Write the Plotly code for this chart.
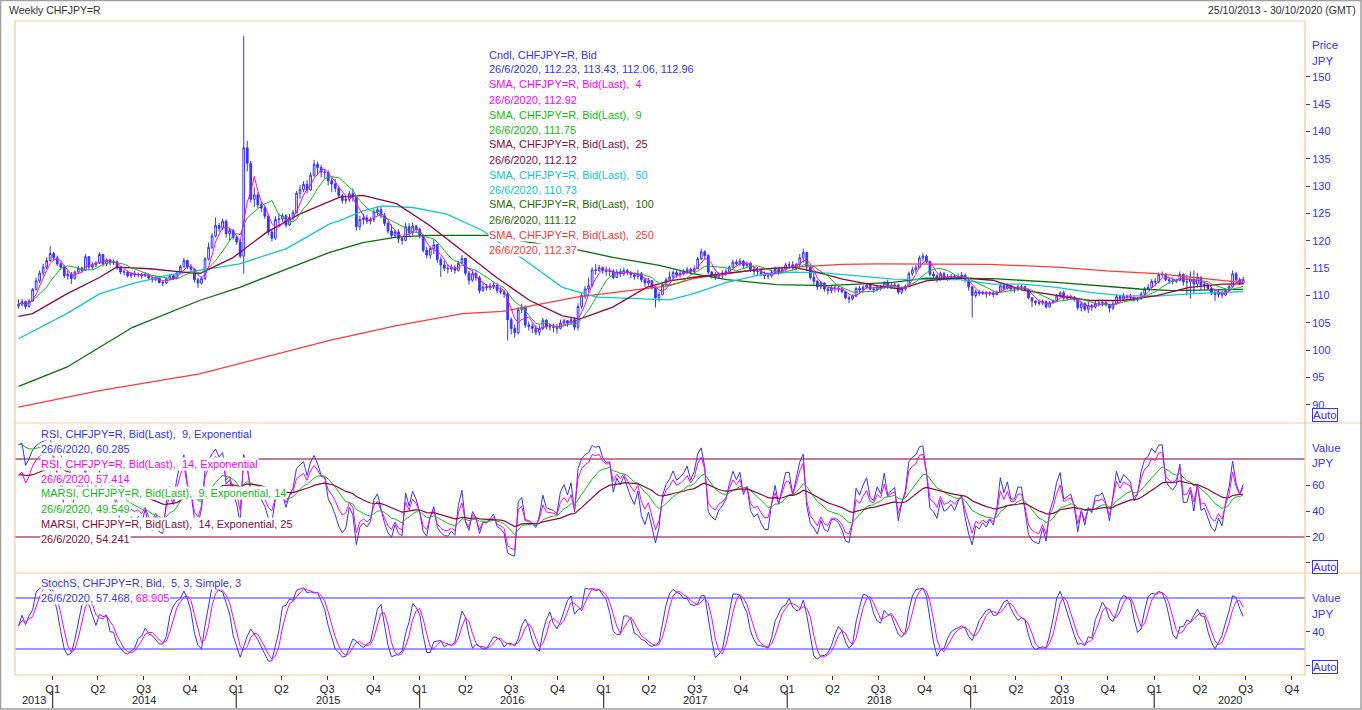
import numpy as np
import pandas as pd
import plotly.graph_objects as go

# Weekly CHFJPY=R bid candles (week ending Friday)
first_open = 108.1

close_2013 = [108.4, 108.9, 108.0, 109.0, 111.1, 112.7, 114.1, 115.2, 116.4, 117.7]
high_2013 = [109.3, 109.4, 109.1, 109.4, 111.4, 113.3, 114.6, 115.8, 117.0, 119.0]
low_2013 = [107.6, 108.0, 107.5, 107.8, 108.9, 110.9, 112.3, 113.6, 114.8, 116.2]

close_2014 = [116.9, 115.8, 115.2, 113.6, 113.9, 113.1, 114.3, 115.0, 114.6,
              117.1, 115.2, 115.6, 115.9, 117.5, 115.8, 116.5, 116.0,
              116.2, 115.1, 114.3, 114.3, 113.6, 114.0, 113.8, 113.9, 113.6,
              113.9, 113.2, 112.9, 113.2, 112.4, 112.3, 113.0, 113.6, 113.1,
              114.1, 115.3, 116.4, 115.2, 114.8, 112.9, 112.3, 113.1, 116.7,
              118.8, 120.9, 122.8, 122.3, 123.6, 121.3, 121.9, 120.6]
high_2014 = [118.0, 117.3, 116.2, 115.5, 114.6, 114.3, 114.6, 115.4, 115.3,
             117.6, 117.2, 116.1, 116.3, 117.9, 117.6, 116.8, 116.8,
             116.6, 116.4, 115.3, 114.8, 114.6, 114.3, 114.5, 114.2, 114.1,
             114.3, 114.0, 113.5, 113.6, 113.5, 112.8, 113.3, 114.0, 113.9,
             114.5, 115.6, 116.9, 116.6, 115.8, 115.0, 113.2, 113.5, 117.0,
             119.7, 121.4, 124.3, 123.3, 124.1, 123.9, 122.4, 122.2]
low_2014 = [116.3, 115.4, 114.7, 113.2, 112.9, 112.1, 112.9, 114.0, 114.2,
            114.6, 114.6, 114.8, 115.2, 115.8, 115.3, 115.4, 115.5,
            115.6, 114.7, 113.9, 113.7, 113.3, 113.2, 113.4, 113.3, 113.1,
            113.4, 112.8, 112.4, 112.6, 112.2, 111.7, 112.1, 112.8, 112.8,
            113.0, 114.0, 115.1, 114.8, 114.0, 112.4, 111.4, 112.0, 112.8,
            116.4, 118.5, 120.6, 121.6, 122.0, 120.6, 120.0, 120.2]

close_2015 = [119.8, 117.2, 137.0, 134.2, 127.6, 128.4, 126.6, 126.0, 124.5,
              121.6, 120.5, 123.9, 124.0, 124.6, 122.9, 124.3, 125.2,
              128.7, 129.4, 130.3, 129.3, 132.0, 134.0, 133.4, 132.6, 132.5,
              131.0, 130.4, 129.6, 128.3, 127.4, 127.6, 128.6, 128.0, 122.6,
              123.9, 124.2, 123.6, 123.9, 125.3, 125.7, 124.6, 123.2, 121.8,
              121.0, 121.6, 120.4, 120.1, 122.6, 121.5, 122.7, 122.1]
high_2015 = [121.0, 120.1, 157.5, 138.3, 134.6, 129.8, 128.9, 127.2, 126.4,
             124.9, 122.1, 124.5, 125.0, 125.0, 124.9, 124.9, 125.6,
             129.1, 130.2, 130.9, 131.1, 132.5, 134.8, 134.5, 133.9, 133.1,
             132.9, 131.6, 131.3, 129.9, 128.6, 128.2, 129.1, 129.6, 128.1,
             124.6, 124.9, 124.8, 124.3, 125.8, 126.3, 126.2, 125.1, 123.6,
             123.0, 122.0, 122.1, 120.9, 123.3, 123.2, 123.4, 122.9]
low_2015 = [119.3, 116.8, 114.0, 132.7, 127.0, 126.2, 126.0, 125.3, 124.0,
            121.0, 119.9, 120.2, 122.7, 123.5, 122.4, 122.7, 123.7,
            125.0, 127.7, 128.9, 128.7, 129.2, 131.7, 132.2, 131.6, 131.4,
            130.1, 128.9, 128.9, 127.9, 126.8, 126.8, 127.1, 127.2, 121.9,
            122.0, 123.0, 123.1, 123.0, 123.4, 124.7, 124.1, 122.7, 121.3,
            120.5, 120.6, 119.6, 119.3, 119.9, 120.8, 121.0, 121.5]

close_2016 = [121.0, 118.3, 117.4, 118.6, 119.3, 116.6, 115.6, 115.0, 114.9,
              115.1, 114.6, 115.9, 116.8, 114.1, 112.8, 114.0, 113.3, 110.9,
              111.6, 111.5, 111.7, 111.9, 110.9, 110.7, 110.3, 105.6,
              104.0, 103.2, 107.4, 107.9, 104.6, 104.4, 104.0, 103.3, 104.0,
              105.5, 104.4, 104.3, 104.2, 104.0, 105.0, 105.4, 105.0, 105.6,
              104.2, 108.0, 110.0, 111.2, 111.8, 114.7, 114.6, 115.1, 114.6]
high_2016 = [122.4, 121.0, 118.9, 119.0, 120.3, 119.4, 117.1, 116.4, 115.8,
             115.7, 115.6, 116.3, 117.4, 116.9, 114.5, 114.7, 114.7, 113.6,
             112.4, 112.1, 112.3, 112.6, 112.2, 111.5, 111.0, 110.8,
             106.0, 104.7, 107.8, 108.5, 108.2, 105.3, 104.9, 104.6, 104.6,
             105.9, 105.7, 104.9, 104.9, 104.8, 105.6, 105.8, 105.5, 105.9,
             106.0, 108.6, 110.4, 111.8, 113.3, 115.2, 115.8, 115.6, 115.3]
low_2016 = [120.4, 117.9, 116.8, 116.7, 117.6, 116.0, 113.4, 114.5, 114.0,
            114.3, 114.0, 114.4, 115.7, 113.7, 112.0, 112.5, 112.7, 110.4,
            110.7, 110.9, 111.0, 111.2, 110.4, 110.2, 109.6, 101.8,
            102.9, 102.3, 102.9, 106.8, 104.1, 103.6, 103.1, 102.8, 102.7,
            103.7, 103.8, 103.6, 103.3, 103.0, 103.8, 104.6, 104.3, 104.7,
            103.7, 103.6, 107.6, 109.4, 110.6, 111.5, 113.8, 114.3, 114.0]

close_2017 = [114.4, 114.5, 113.3, 114.3, 114.0, 114.6, 114.2, 113.8,
              113.5, 114.0, 112.9, 112.3, 112.7, 111.5, 109.6, 110.2, 112.0,
              112.9, 113.4, 114.2, 113.8, 114.0, 114.3, 114.8, 114.4, 114.9,
              116.7, 118.0, 117.3, 114.3, 113.7, 113.4, 113.9, 114.1,
              114.4, 115.2, 116.1, 115.8, 116.3, 115.5, 115.9, 114.8, 114.4,
              114.5, 114.0, 113.6, 113.6, 114.2, 114.8, 114.2, 114.8, 115.6]
high_2017 = [115.3, 115.1, 114.8, 114.8, 114.9, 115.1, 114.9, 114.5,
             114.2, 114.7, 114.3, 113.2, 113.2, 112.8, 111.7, 110.7, 112.4,
             113.3, 114.4, 114.6, 114.5, 114.6, 114.8, 115.2, 115.1, 115.5,
             117.1, 118.6, 118.3, 117.6, 114.5, 114.3, 114.3, 114.6,
             114.9, 115.5, 116.5, 116.6, 116.8, 116.5, 116.2, 116.2, 115.3,
             115.2, 114.8, 114.4, 114.2, 114.7, 115.3, 115.1, 115.3, 116.0]
low_2017 = [113.6, 113.5, 113.0, 113.2, 113.4, 113.6, 113.7, 113.2,
            112.9, 113.0, 112.5, 111.6, 111.8, 111.1, 107.8, 108.9, 110.0,
            111.7, 112.7, 112.9, 113.3, 113.3, 113.7, 113.9, 113.9, 114.0,
            114.8, 116.5, 116.6, 113.9, 113.1, 112.8, 113.0, 113.2,
            113.6, 114.0, 115.0, 115.5, 115.4, 115.0, 115.1, 114.3, 113.7,
            113.6, 113.5, 113.0, 113.0, 113.3, 113.9, 113.8, 114.1, 114.5]

close_2018 = [115.6, 115.0, 115.7, 116.9, 117.9, 115.2, 113.3, 112.6,
              111.6, 112.3, 111.2, 110.9, 111.4, 111.4, 111.2, 110.7, 109.6,
              109.4, 109.9, 111.3, 111.0, 111.5, 111.9, 111.2, 111.1, 111.6,
              111.4, 112.3, 111.6, 111.8, 111.9, 110.6, 111.2, 111.7, 114.0,
              114.7, 115.1, 116.9, 117.2, 116.2, 113.9, 113.6, 113.0,
              114.0, 113.2, 113.3, 113.5, 113.2, 113.5, 113.7, 112.8, 111.6]
high_2018 = [116.2, 116.3, 116.0, 117.6, 118.6, 117.6, 115.4, 114.4,
             112.9, 112.6, 112.4, 111.6, 111.8, 112.0, 111.7, 111.5, 110.9,
             110.0, 110.2, 111.6, 111.8, 111.9, 112.3, 112.2, 111.6, 111.9,
             112.0, 112.6, 112.9, 112.4, 112.3, 112.2, 111.6, 112.0, 114.4,
             115.3, 115.6, 117.3, 117.8, 117.5, 116.4, 114.4, 113.9,
             114.4, 114.3, 113.9, 114.0, 113.8, 114.0, 114.3, 114.0, 113.0]
low_2018 = [114.9, 114.6, 114.7, 115.2, 116.0, 114.4, 112.9, 112.0,
            111.0, 111.2, 110.7, 110.2, 110.4, 110.6, 110.6, 110.4, 109.3,
            108.6, 109.1, 109.7, 110.3, 110.5, 111.2, 110.9, 110.5, 110.8,
            110.9, 111.3, 111.2, 111.2, 111.2, 110.2, 110.2, 110.9, 111.5,
            113.6, 114.2, 115.0, 116.2, 115.8, 113.5, 112.9, 112.4,
            112.7, 112.9, 112.7, 112.9, 112.8, 112.9, 113.1, 112.4, 110.9]

close_2019 = [110.0, 110.7, 110.4, 110.6, 110.3, 110.5, 110.2, 110.6,
              111.8, 111.3, 111.8, 111.2, 111.2, 111.6, 111.6, 111.0, 109.6,
              109.0, 108.7, 108.6, 108.9, 107.9, 108.7, 109.1, 109.9, 110.5,
              109.5, 109.6, 109.7, 109.3, 107.8, 108.5, 107.5, 108.2, 107.9,
              108.6, 108.6, 108.7, 108.4, 107.7, 108.5, 109.8, 109.4,
              109.9, 109.8, 109.7, 109.2, 109.4, 110.3, 111.2, 111.5, 112.6]
high_2019 = [111.7, 111.1, 111.0, 110.9, 110.8, 110.8, 110.8, 110.9,
             112.2, 112.2, 112.2, 112.0, 111.6, 111.9, 112.0, 111.8, 111.2,
             109.7, 109.1, 109.3, 109.3, 109.1, 109.0, 109.3, 110.3, 110.8,
             110.9, 110.1, 110.2, 109.9, 109.5, 108.9, 108.8, 108.9, 108.5,
             109.1, 109.3, 109.3, 109.2, 108.5, 109.0, 110.2, 110.0,
             110.4, 110.2, 110.3, 109.8, 109.7, 110.7, 111.6, 112.1, 113.0]
low_2019 = [106.0, 109.6, 109.9, 110.1, 109.6, 109.9, 109.7, 110.0,
            110.5, 110.9, 111.1, 110.7, 110.5, 110.8, 111.0, 110.8, 109.3,
            107.9, 108.2, 108.2, 108.3, 107.6, 107.9, 108.5, 108.8, 109.8,
            109.2, 109.1, 109.2, 108.9, 107.3, 107.1, 107.1, 106.8, 107.2,
            107.6, 108.0, 108.0, 108.0, 106.9, 107.3, 108.4, 109.0,
            109.2, 109.2, 109.3, 108.9, 108.9, 109.2, 110.0, 111.0, 111.4]

close_2020 = [112.5, 113.8, 113.9, 112.9, 112.7, 112.6, 112.8, 113.9, 112.5,
              112.5, 113.0, 112.1, 113.4, 111.9, 112.0, 111.3, 110.5,
              110.2, 110.6, 110.1, 110.9, 111.6, 114.0, 112.9, 112.23, 112.96]
high_2020 = [113.2, 114.2, 114.4, 114.1, 113.3, 113.3, 113.1, 114.4, 114.0,
             113.8, 114.4, 114.6, 114.1, 113.3, 112.5, 112.2, 111.6,
             111.0, 111.2, 110.9, 111.3, 112.0, 114.6, 114.3, 113.3, 113.43]
low_2020 = [111.7, 112.2, 113.3, 112.6, 112.1, 112.0, 112.3, 112.6, 111.8,
            110.0, 109.4, 110.3, 111.5, 111.0, 111.0, 110.9, 110.1,
            109.0, 109.6, 109.5, 109.9, 110.6, 111.6, 112.4, 112.0, 112.06]

# slow moving averages at roughly monthly points
sma25_dates = ["2013-10-25", "2013-11-22", "2014-01-29", "2014-04-04", "2014-05-08", "2014-07-13",
               "2014-09-17", "2014-10-20", "2014-12-25", "2015-03-03", "2015-05-07", "2015-07-26",
               "2015-09-10", "2015-11-16", "2016-01-21", "2016-03-26", "2016-06-02", "2016-08-07",
               "2016-10-11", "2016-11-14", "2017-01-19", "2017-03-27", "2017-05-12", "2017-06-27",
               "2017-09-03", "2017-11-07", "2018-01-12", "2018-03-01", "2018-04-21", "2018-06-28",
               "2018-08-13", "2018-10-05", "2018-12-10", "2019-02-14", "2019-04-14", "2019-06-21",
               "2019-08-26", "2019-10-30", "2020-01-06", "2020-03-11", "2020-05-16", "2020-06-26"]
sma25_vals = [106.2, 106.7, 110.3, 113.3, 115.2, 114.9, 114.3, 114.0, 116.9, 121.6, 124.9, 128.0,
              128.3, 126.8, 122.8, 118.2, 113.3, 109.1, 106.3, 105.7, 107.9, 111.5, 112.7, 113.3,
              114.1, 114.8, 115.2, 114.3, 113.0, 111.8, 111.2, 112.7, 113.3, 112.8, 111.0, 110.0,
              109.1, 109.1, 110.0, 111.5, 112.1, 112.12]

sma50_dates = ["2013-10-25", "2014-01-29", "2014-04-04", "2014-06-09", "2014-08-16", "2014-10-20",
               "2015-01-08", "2015-04-11", "2015-07-06", "2015-07-26", "2015-09-10", "2015-10-19",
               "2015-12-18", "2016-02-24", "2016-05-05", "2016-08-07", "2016-10-11", "2016-12-18",
               "2017-05-12", "2017-06-27", "2017-09-03", "2017-11-07", "2018-01-12", "2018-03-21",
               "2018-05-25", "2018-07-30", "2018-10-05", "2018-12-10", "2019-02-14", "2019-04-14",
               "2019-06-21", "2019-08-26", "2019-10-30", "2020-01-06", "2020-03-11", "2020-05-16",
               "2020-06-26"]
sma50_vals = [102.1, 106.7, 110.3, 112.2, 113.7, 114.7, 115.8, 118.6, 123.1, 123.7, 125.5, 126.4,
              126.1, 124.9, 121.9, 115.8, 111.5, 109.7, 109.2, 110.3, 112.4, 113.8, 114.3, 114.1,
              113.5, 113.0, 112.9, 112.9, 112.1, 112.1, 111.5, 110.6, 110.0, 109.9, 110.3, 110.6,
              110.73]

sma100_dates = ["2013-10-25", "2014-01-29", "2014-06-09", "2014-10-20", "2015-01-08", "2015-05-07",
                "2015-07-06", "2015-09-10", "2015-11-16", "2016-01-21", "2016-05-13", "2016-11-08",
                "2017-01-19", "2017-04-22", "2017-06-27", "2017-09-03", "2017-11-07", "2017-12-11",
                "2018-03-21", "2018-07-30", "2018-10-05", "2019-02-14", "2019-06-21", "2019-09-28",
                "2019-12-03", "2020-02-07", "2020-04-14", "2020-06-26"]
sma100_vals = [93.4, 96.9, 104.2, 109.1, 111.5, 115.8, 117.9, 119.7, 120.7, 121.0, 121.0, 118.4,
               117.0, 115.5, 114.0, 112.9, 112.3, 112.0, 111.8, 112.4, 113.2, 113.1, 112.4, 111.6,
               111.2, 110.9, 111.0, 111.12]

sma250_dates = ["2013-10-25", "2014-04-04", "2014-10-20", "2015-07-06", "2015-11-16", "2016-03-26",
                "2016-06-14", "2016-11-08", "2017-05-12", "2017-06-27", "2017-09-03", "2017-11-07",
                "2018-01-12", "2018-03-01", "2018-04-21", "2018-06-28", "2018-10-05", "2019-02-08",
                "2019-06-21", "2019-09-28", "2020-01-06", "2020-03-11", "2020-05-16", "2020-06-26"]
sma250_vals = [89.6, 92.6, 95.7, 101.8, 104.5, 106.7, 107.1, 109.7, 111.8, 113.1, 114.0, 114.8,
               115.2, 115.5, 115.7, 115.8, 115.8, 115.7, 115.2, 114.5, 114.0, 113.4, 112.7, 112.37]

# last values shown in the legends
cndl_last = [112.23, 113.43, 112.06, 112.96]
sma_periods = [4, 9, 25, 50, 100, 250]
sma_last = [112.92, 111.75, 112.12, 110.73, 111.12, 112.37]
rsi_last = [60.285, 57.414, 49.549, 54.241]
stoch_last = [57.468, 68.905]
year_labels = ["2013", "2014", "2015", "2016", "2017", "2018", "2019", "2020"]

BLUE = "#3535FF"
MAGENTA = "#FF00FF"
GREEN = "#10C010"
DRED = "#8E0A3A"
CYAN = "#10C8D0"
DGREEN = "#0A6E0A"
RED = "#FF3A3A"
ORANGE = "#F9C995"
FONT = "Liberation Sans, Arial, sans-serif"

closes = close_2013 + close_2014 + close_2015 + close_2016 + close_2017 + close_2018 + close_2019 + close_2020
highs = high_2013 + high_2014 + high_2015 + high_2016 + high_2017 + high_2018 + high_2019 + high_2020
lows = low_2013 + low_2014 + low_2015 + low_2016 + low_2017 + low_2018 + low_2019 + low_2020
dates = pd.date_range("2013-10-25", periods=len(closes), freq="W-FRI")
opens = [first_open] + closes[:-1]
highs = np.maximum(np.maximum(highs, opens), closes)
lows = np.minimum(np.minimum(lows, opens), closes)

c = pd.Series(closes, index=dates)
sma4 = c.rolling(4, min_periods=1).mean()
sma9 = c.rolling(9, min_periods=1).mean()


def rsi(s, n):
    # exponential RSI; averages seeded with the mean of the first n changes
    d = s.diff().fillna(s.iloc[0] - first_open)
    up = d.clip(lower=0)
    dn = (-d).clip(lower=0)
    up.iloc[0] = up.iloc[:n].mean()
    dn.iloc[0] = dn.iloc[:n].mean()
    up = up.ewm(span=n, adjust=False).mean()
    dn = dn.ewm(span=n, adjust=False).mean()
    return 100 * up / (up + dn)


rsi9 = rsi(c, 9)
rsi14 = rsi(c, 14)
marsi9 = rsi9.ewm(span=14, adjust=False).mean()
marsi14 = rsi14.ewm(span=25, adjust=False).mean()

hh = pd.Series(highs, index=dates).rolling(5, min_periods=1).max()
ll = pd.Series(lows, index=dates).rolling(5, min_periods=1).min()
fast_k = 100 * (c - ll) / (hh - ll)
stoch_k = fast_k.rolling(3, min_periods=1).mean()
stoch_d = stoch_k.rolling(3, min_periods=1).mean()

X0 = pd.Timestamp("2013-10-18")
X1 = pd.Timestamp("2020-10-27")
MARK_X = X1 + pd.Timedelta(days=10)

# pixel helpers (plot area 15..1305 x 21..675)
def px(x):
    return (x - 15) / 1290


def py(y):
    return (675 - y) / 654


P_BOT = py(423)
R_BOT = py(573)

fig = go.Figure()

fig.add_trace(go.Candlestick(
    x=dates, open=opens, high=highs, low=lows, close=closes, xaxis="x", yaxis="y",
    increasing=dict(line=dict(color=BLUE, width=1), fillcolor="white"),
    decreasing=dict(line=dict(color=BLUE, width=1), fillcolor=BLUE),
    whiskerwidth=0, showlegend=False, hoverinfo="skip"))

line_kw = dict(mode="lines", showlegend=False, hoverinfo="skip")
fig.add_trace(go.Scatter(x=pd.to_datetime(sma250_dates), y=sma250_vals, line=dict(color=RED, width=1.3), xaxis="x", yaxis="y", **line_kw))
fig.add_trace(go.Scatter(x=pd.to_datetime(sma100_dates), y=sma100_vals, line=dict(color=DGREEN, width=1.3), xaxis="x", yaxis="y", **line_kw))
fig.add_trace(go.Scatter(x=pd.to_datetime(sma50_dates), y=sma50_vals, line=dict(color=CYAN, width=1.3), xaxis="x", yaxis="y", **line_kw))
fig.add_trace(go.Scatter(x=pd.to_datetime(sma25_dates), y=sma25_vals, line=dict(color=DRED, width=1.3), xaxis="x", yaxis="y", **line_kw))
fig.add_trace(go.Scatter(x=dates, y=sma9, line=dict(color=GREEN, width=1), xaxis="x", yaxis="y", **line_kw))
fig.add_trace(go.Scatter(x=dates, y=sma4, line=dict(color=MAGENTA, width=1), xaxis="x", yaxis="y", **line_kw))

fig.add_trace(go.Scatter(x=dates, y=rsi9, line=dict(color=BLUE, width=1), xaxis="x2", yaxis="y2", **line_kw))
fig.add_trace(go.Scatter(x=dates, y=rsi14, line=dict(color=MAGENTA, width=1), xaxis="x2", yaxis="y2", **line_kw))
fig.add_trace(go.Scatter(x=dates, y=marsi9, line=dict(color=GREEN, width=1), xaxis="x2", yaxis="y2", **line_kw))
fig.add_trace(go.Scatter(x=dates, y=marsi14, line=dict(color=DRED, width=1.2), xaxis="x2", yaxis="y2", **line_kw))

fig.add_trace(go.Scatter(x=dates, y=stoch_k, line=dict(color=BLUE, width=1), xaxis="x3", yaxis="y3", **line_kw))
fig.add_trace(go.Scatter(x=dates, y=stoch_d, line=dict(color=MAGENTA, width=1), xaxis="x3", yaxis="y3", **line_kw))

# last-value diamonds on the right axes
mk = dict(mode="markers", showlegend=False, hoverinfo="skip", cliponaxis=False)
price_mk_cols = [CYAN, DGREEN, GREEN, DRED, RED, MAGENTA]
price_mk_vals = [sma_last[3], sma_last[4], sma_last[1], sma_last[2], sma_last[5], sma_last[0]]
fig.add_trace(go.Scatter(x=[MARK_X], y=[cndl_last[3]], marker=dict(symbol="diamond", size=9, color=BLUE), xaxis="x", yaxis="y", **mk))
fig.add_trace(go.Scatter(x=[MARK_X] * 6, y=price_mk_vals, marker=dict(symbol="diamond", size=9, color=price_mk_cols), xaxis="x", yaxis="y", **mk))
fig.add_trace(go.Scatter(x=[MARK_X] * 4, y=[rsi_last[0], rsi_last[1], rsi_last[3], rsi_last[2]],
                         marker=dict(symbol="diamond", size=9, color=[BLUE, MAGENTA, DRED, GREEN]), xaxis="x2", yaxis="y2", **mk))
fig.add_trace(go.Scatter(x=[MARK_X] * 2, y=[stoch_last[1], stoch_last[0]],
                         marker=dict(symbol="diamond", size=9, color=[MAGENTA, BLUE]), xaxis="x3", yaxis="y3", **mk))

quarters = pd.date_range("2014-01-01", "2020-10-01", freq="QS")
common_x = dict(type="date", range=[X0, X1], showgrid=False, zeroline=False, showline=False, fixedrange=True)
ax_y = dict(side="right", showgrid=False, zeroline=False, showline=False, ticks="outside", ticklen=4,
            tickcolor=BLUE, tickfont=dict(color=BLUE, size=11, family=FONT), fixedrange=True)

fig.update_layout(
    width=1362, height=710,
    margin=dict(l=15, r=57, t=21, b=35),
    paper_bgcolor="white", plot_bgcolor="white",
    font=dict(family=FONT, size=11, color="#222222"),
    showlegend=False,
    xaxis=dict(common_x, domain=[0, 1], anchor="y", showticklabels=False, ticks="", rangeslider=dict(visible=False)),
    xaxis2=dict(common_x, domain=[0, 1], anchor="y2", showticklabels=False, ticks="", matches="x"),
    xaxis3=dict(common_x, domain=[0, 1], anchor="y3", matches="x", tickmode="array", tickvals=quarters,
                ticktext=["Q%d" % q.quarter for q in quarters], ticks="outside", ticklen=4,
                tickcolor="#333333", tickfont=dict(size=11, color="#222222")),
    yaxis=dict(ax_y, domain=[P_BOT, 1], anchor="x", range=[86.7, 160.2], tickvals=list(range(90, 155, 5))),
    yaxis2=dict(ax_y, domain=[R_BOT, P_BOT], anchor="x2", range=[-7.7, 107.7],
                tickvals=[0, 20, 40, 60], ticktext=["", "20", "40", "60"]),
    yaxis3=dict(ax_y, domain=[0, R_BOT], anchor="x3", range=[-10.6, 109.4],
                tickvals=[0, 40], ticktext=["", "40"]),
)

shapes = []
# frame and panel separators
shapes.append(dict(type="rect", xref="paper", yref="paper", x0=0, x1=1, y0=0, y1=1, line=dict(color=ORANGE, width=1.2)))
for yb in (P_BOT, R_BOT):
    shapes.append(dict(type="line", xref="paper", yref="paper", x0=0, x1=px(1362), y0=yb, y1=yb, line=dict(color=ORANGE, width=1.2)))
# window border
shapes.append(dict(type="rect", xref="paper", yref="paper", x0=px(0.5), x1=px(1361), y0=py(709), y1=py(0.5),
                   line=dict(color="#A0A0A0", width=1.5)))
# RSI and stochastic guide lines
for lvl in (80, 20):
    shapes.append(dict(type="line", xref="paper", yref="y2", x0=0, x1=1, y0=lvl, y1=lvl, line=dict(color="#800028", width=1.2), layer="below"))
    shapes.append(dict(type="line", xref="paper", yref="y3", x0=0, x1=1, y0=lvl, y1=lvl, line=dict(color=BLUE, width=1.2), layer="below"))
# year separators under the axis
for yr in year_labels[1:]:
    t = pd.Timestamp(yr + "-01-01")
    shapes.append(dict(type="line", xref="x3", yref="paper", x0=t, x1=t, y0=py(708), y1=py(691), line=dict(color="#111111", width=1)))

ann = []


def note(x, y, text, color, size=11, anchor="left", bg="white", **kw):
    ann.append(dict(x=px(x), y=py(y), xref="paper", yref="paper", text=text, showarrow=False,
                    xanchor=anchor, yanchor="middle", font=dict(color=color, size=size, family=FONT),
                    bgcolor=bg, borderpad=0, **kw))


def sp(t):
    return t.replace("  ", " \u00a0")


note(8, 10, "Weekly CHFJPY=R", "#333333", size=10.5, bg=None)
note(1357, 10, "25/10/2013 - 30/10/2020 (GMT)", "#333333", size=10.5, anchor="right", bg=None)

price_legend = [("Cndl, CHFJPY=R, Bid", BLUE),
                ("26/6/2020, " + ", ".join("%.2f" % v for v in cndl_last), BLUE)]
sma_cols = [MAGENTA, GREEN, DRED, CYAN, "#2A6E00", RED]
for p, v, col in zip(sma_periods, sma_last, sma_cols):
    price_legend.append(("SMA, CHFJPY=R, Bid(Last),  %d" % p, col))
    price_legend.append(("26/6/2020, %.2f" % v, col))
for i, (t, col) in enumerate(price_legend):
    note(488, 54.5 + 15 * i, sp(t), col)

rsi_legend = [("RSI, CHFJPY=R, Bid(Last),  9, Exponential", BLUE),
              ("26/6/2020, %.3f" % rsi_last[0], BLUE),
              ("RSI, CHFJPY=R, Bid(Last),  14, Exponential", MAGENTA),
              ("26/6/2020, %.3f" % rsi_last[1], MAGENTA),
              ("MARSI, CHFJPY=R, Bid(Last),  9, Exponential, 14", GREEN),
              ("26/6/2020, %.3f" % rsi_last[2], GREEN),
              ("MARSI, CHFJPY=R, Bid(Last),  14, Exponential, 25", DRED),
              ("26/6/2020, %.3f" % rsi_last[3], DRED)]
for i, (t, col) in enumerate(rsi_legend):
    note(40, 433.5 + 15 * i, sp(t), col)

note(40, 583, sp("StochS, CHFJPY=R, Bid,  5, 3, Simple, 3"), BLUE)
note(40, 598, "26/6/2020, %.3f, <span style='color:%s'>%.3f</span>" % (stoch_last[0], MAGENTA, stoch_last[1]), BLUE)

# right axis captions
for ytxt, txt in [(45, "Price"), (61, "JPY"), (448, "Value"), (463, "JPY"), (598, "Value"), (614, "JPY")]:
    note(1311, ytxt, txt, BLUE, size=11.5, bg=None)
for ya in (414.5, 566.5, 667):
    note(1312, ya, "Auto", BLUE, size=11.5, bg="white", bordercolor=BLUE, borderwidth=1)

# year labels centred on the visible part of each year
for yr in year_labels:
    a = max(pd.Timestamp(yr + "-01-01"), X0)
    b = min(pd.Timestamp(str(int(yr) + 1) + "-01-01"), X1)
    ann.append(dict(x=a + (b - a) / 2, y=py(699.5), xref="x3", yref="paper", text=yr, showarrow=False,
                    xanchor="center", yanchor="middle", font=dict(color="#222222", size=11, family=FONT)))

fig.update_layout(shapes=shapes, annotations=ann)

fig.write_html("out.html", config={"displayModeBar": False},
               post_script="document.body.style.margin='0';document.body.style.overflow='hidden';")
